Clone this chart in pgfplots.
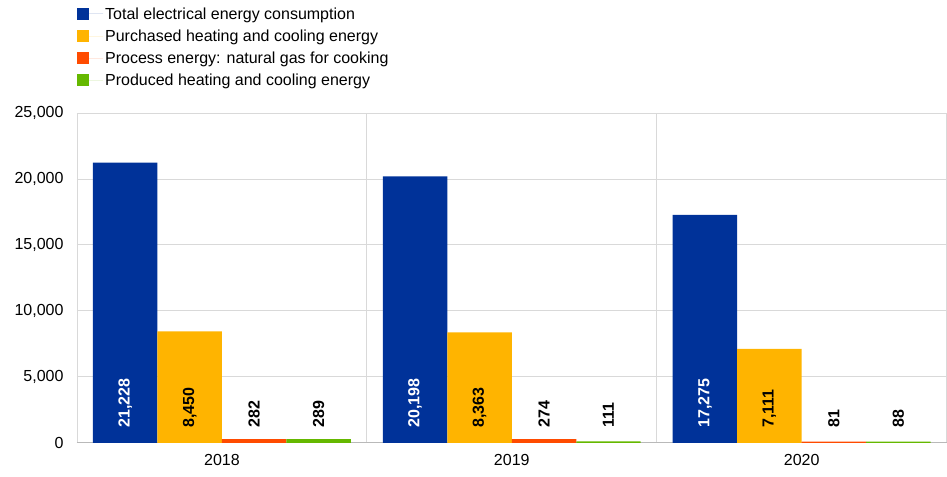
\documentclass[border=0pt]{standalone}
\usepackage{pgfplots}
\pgfplotsset{compat=1.18}
\usepackage{fontspec}
\setmainfont{Liberation Sans}
\definecolor{ecbblue}{HTML}{003299}
\definecolor{ecbyellow}{HTML}{FFB400}
\definecolor{ecbred}{HTML}{FF4B00}
\definecolor{ecbgreen}{HTML}{65B800}
\definecolor{gridgray}{HTML}{D9D9D9}
\begin{document}
\begin{tikzpicture}[font=\fontsize{16}{19}\selectfont]
\begin{axis}[name=ax, scale only axis, width=870pt, height=330pt,
  xmin=-0.5, xmax=2.5, ymin=0, ymax=25000,
  xtick={0,1,2}, xticklabels={2018,2019,2020},
  ytick={0,5000,...,25000},
  scaled y ticks=false,
  minor xtick={-0.5,0.5,1.5,2.5}, xminorgrids, ymajorgrids,
  grid style={draw=gridgray, line width=0.8pt},
  minor grid style={draw=gridgray, line width=0.8pt},
  major tick length=0pt, minor tick length=0pt,
  axis line style={draw=none},
  extra y ticks={0}, extra y tick labels={},
  extra y tick style={grid style={draw=gray!55, line width=0.8pt}},
  /pgf/number format/assume math mode=true,
  yticklabel style={/pgf/number format/fixed, /pgf/number format/1000 sep={,}, xshift=-10pt},
  xticklabel style={yshift=-8pt},
  tick label style={text=black},
  legend style={at={(0,1)}, anchor=south west, yshift=24pt, draw=none, fill=none,
    inner sep=0pt, row sep=5pt, font=\fontsize{16}{19}\selectfont},
  legend cell align=left,
  legend image code/.code={\fill[#1] (0pt,-6pt) rectangle (12pt,6pt); \path (12pt,0pt) -- (26pt,0pt);},
  clip=false,
]
\addplot[ybar, bar width=0.2224, bar shift=0pt, fill=ecbblue, draw=none]
  coordinates {(-0.3336,21228) (0.6664,20198) (1.6664,17275)};
\addlegendentry{Total electrical energy consumption}
\addplot[ybar, bar width=0.2224, bar shift=0pt, fill=ecbyellow, draw=none]
  coordinates {(-0.1112,8450) (0.8888,8363) (1.8888,7111)};
\addlegendentry{Purchased heating and cooling energy}
\addplot[ybar, bar width=0.2224, bar shift=0pt, fill=ecbred, draw=none]
  coordinates {(0.1112,282) (1.1112,274) (2.1112,81)};
\addlegendentry{Process energy: natural gas for cooking}
\addplot[ybar, bar width=0.2224, bar shift=0pt, fill=ecbgreen, draw=none]
  coordinates {(0.3336,289) (1.3336,111) (2.3336,88)};
\addlegendentry{Produced heating and cooling energy}

\addplot[draw=none, forget plot, nodes near coords, point meta=explicit symbolic,
  nodes near coords align={anchor=west},
  every node near coord/.append style={rotate=90, font=\fontsize{16}{19}\selectfont\bfseries, text=white, inner sep=0pt}]
  coordinates {(-0.3336,1136)[21{,}228] (0.6664,1136)[20{,}198] (1.6664,1136)[17{,}275]};
\addplot[draw=none, forget plot, nodes near coords, point meta=explicit symbolic,
  nodes near coords align={anchor=west},
  every node near coord/.append style={rotate=90, font=\fontsize{16}{19}\selectfont\bfseries, text=black, inner sep=0pt}]
  coordinates {(-0.1112,1136)[8{,}450] (0.8888,1136)[8{,}363] (1.8888,1136)[7{,}111]
               (0.1112,1136)[282] (1.1112,1136)[274] (2.1112,1136)[81]
               (0.3336,1136)[289] (1.3336,1136)[111] (2.3336,1136)[88]};
\end{axis}
\path ([xshift=-77pt, yshift=-34pt]ax.south west) rectangle ([yshift=113pt]ax.north east);
\end{tikzpicture}
\end{document}
